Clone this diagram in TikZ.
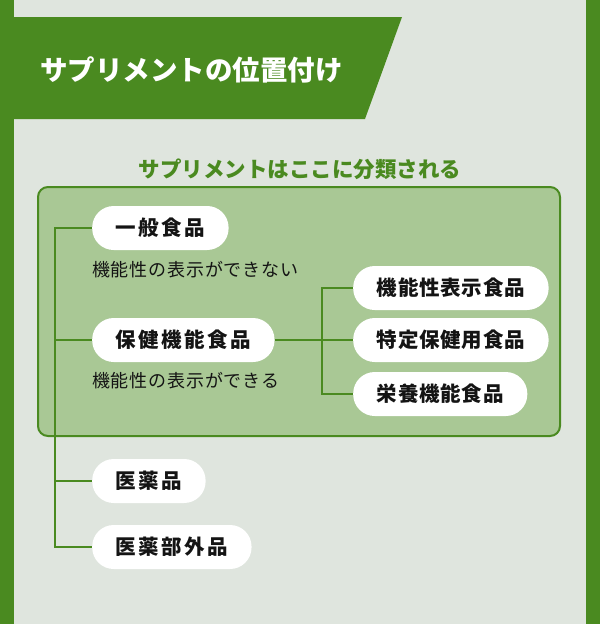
\documentclass[tikz,border=0pt]{standalone}
\usepackage{fontspec}
\setmainfont{Noto Sans CJK JP}
\definecolor{bggray}{HTML}{DFE5DE}
\definecolor{leaf}{HTML}{4A8A20}
\definecolor{boxfill}{HTML}{A9C895}
\definecolor{inkc}{HTML}{141414}
\tikzset{
  pillbase/.style={fill=white, rounded corners=21.5pt, minimum height=44pt,
    inner xsep=23.5pt, inner ysep=0pt, anchor=west, text=inkc},
  leftpill/.style={pillbase, font={\fontsize{20.5pt}{20.5pt}\bfseries\selectfont\addfontfeature{LetterSpace=12}}},
  rightpill/.style={pillbase, font={\fontsize{20.5pt}{20.5pt}\bfseries\selectfont\addfontfeature{LetterSpace=4}}},
  desc/.style={anchor=west, inner sep=0pt, text=inkc, font={\fontsize{18pt}{18pt}\selectfont\addfontfeature{LetterSpace=4.5}}},
  conn/.style={draw=leaf, line width=2pt},
}
\begin{document}
\begin{tikzpicture}[x=1pt,y=-1pt]
\useasboundingbox (0,0) rectangle (600,624);
% background and frame
\fill[bggray] (0,0) rectangle (600,624);
\fill[leaf] (0,0) rectangle (14,624);
\fill[leaf] (586,0) rectangle (600,624);
% title banner
\fill[leaf] (0,17) -- (402,17) -- (365,119) -- (0,119) -- cycle;
\node[anchor=west, inner sep=0pt, text=white, font={\fontsize{27.5pt}{27.5pt}\bfseries\selectfont}] (title) at (40,70) {サプリメントの位置付け};
% subtitle
\node[inner sep=0pt, text=leaf, font={\fontsize{21.5pt}{21.5pt}\bfseries\selectfont}] (sub) at (300,169) {サプリメントはここに分類される};
% green group box
\draw[draw=leaf, line width=2pt, fill=boxfill, rounded corners=10pt] (38,187) rectangle (560,436);
% left pills
\node[leftpill] (ippan) at (92,228) {一般食品};
\node[desc] (d1) at (92,270) {機能性の表示ができない};
\node[leftpill] (hoken) at (92,340) {保健機能食品};
\node[desc] (d2) at (92,381) {機能性の表示ができる};
\node[leftpill] (iyaku) at (92,481) {医薬品};
\node[leftpill] (bugai) at (92,547) {医薬部外品};
% right pills
\node[rightpill] (kinou) at (353,288) {機能性表示食品};
\node[rightpill] (tokutei) at (353,340) {特定保健用食品};
\node[rightpill] (eiyou) at (353,394) {栄養機能食品};
% connector coordinates
\coordinate (trunk) at (55,0);
\coordinate (branch) at (322,0);
% main trunk
\draw[conn] (ippan.west) -- (ippan.west -| trunk) -- (bugai.west -| trunk) -- (bugai.west);
\draw[conn] (hoken.west) -- (hoken.west -| trunk);
\draw[conn] (iyaku.west) -- (iyaku.west -| trunk);
% branch
\draw[conn] (hoken.east) -- (hoken.east -| branch);
\draw[conn] (kinou.west) -- (kinou.west -| branch) -- (eiyou.west -| branch) -- (eiyou.west);
\draw[conn] (tokutei.west) -- (tokutei.west -| branch);
\end{tikzpicture}
\end{document}
